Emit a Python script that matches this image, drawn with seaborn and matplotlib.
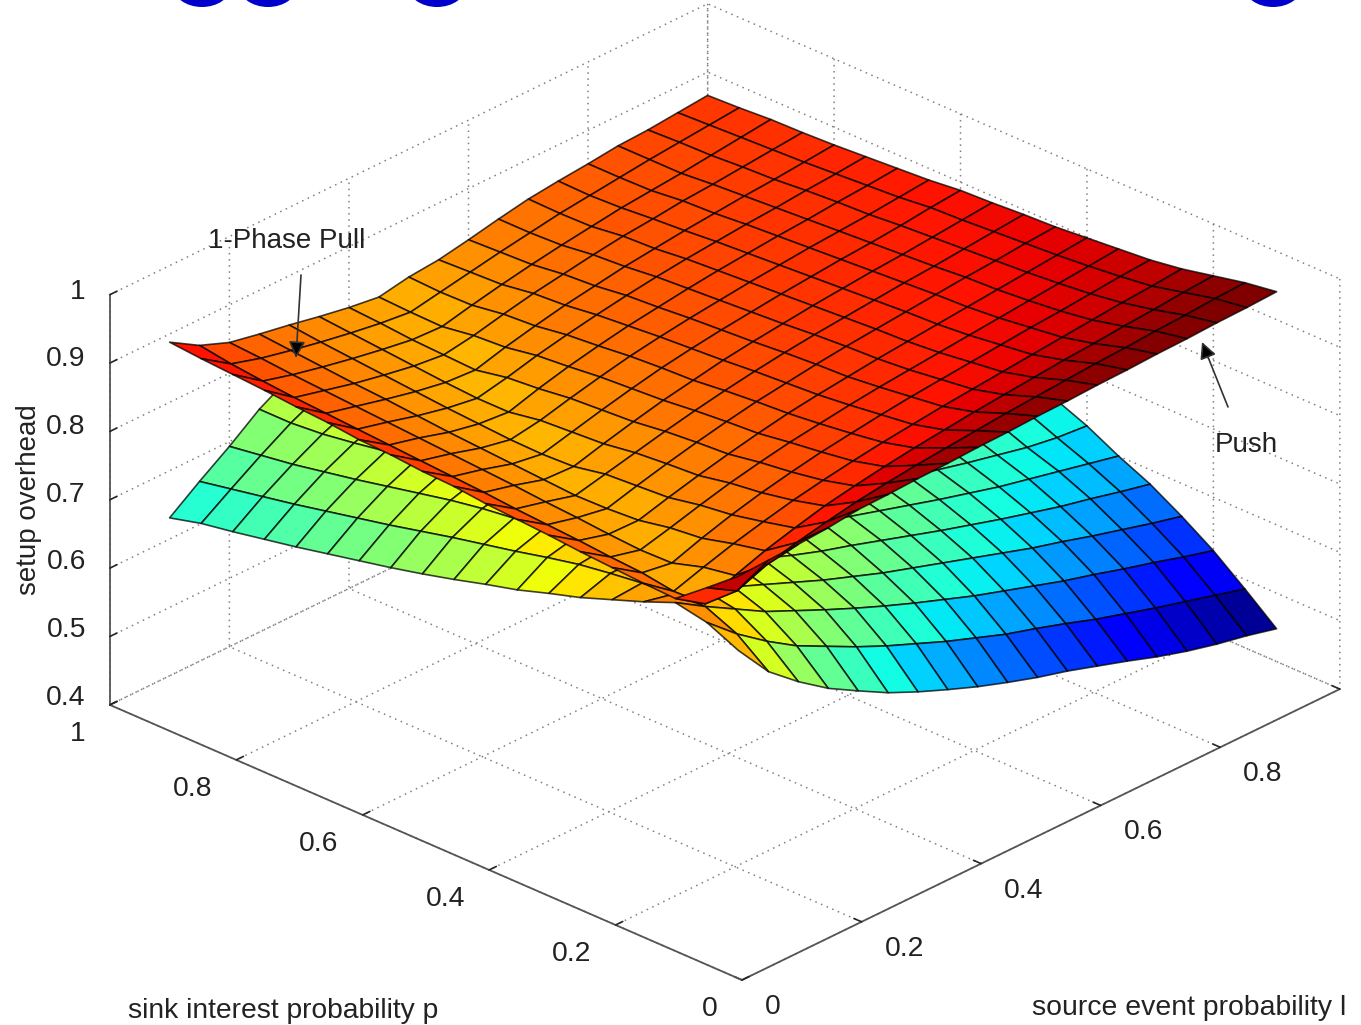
import numpy as np
import seaborn as sns
import matplotlib
matplotlib.use('Agg')
import matplotlib.pyplot as plt
from matplotlib.colors import Normalize
from matplotlib.patches import Ellipse
from matplotlib.ticker import NullFormatter
from matplotlib.transforms import IdentityTransform
from mpl_toolkits.mplot3d import proj3d

# source event probability l (columns), sink interest probability p (rows)
l_vals = [.10, .15, .20, .25, .30, .35, .40, .45, .50, .55, .60, .65, .70, .75, .80, .85, .90, .95, 1.0]
p_vals = [.10, .15, .20, .25, .30, .35, .40, .45, .50, .55, .60, .65, .70, .75, .80, .85, .90, .95, 1.0]

push_overhead = [
    [.908, .910, .912, .915, .920, .921, .923, .924, .926, .927, .929, .930, .932, .933, .935, .936, .938, .939, .941],
    [.871, .845, .862, .873, .882, .890, .896, .901, .905, .909, .913, .916, .919, .922, .924, .927, .929, .932, .934],
    [.835, .806, .826, .841, .853, .864, .872, .879, .885, .890, .895, .899, .903, .907, .910, .914, .917, .921, .924],
    [.837, .804, .818, .831, .842, .852, .860, .867, .873, .878, .883, .887, .891, .895, .899, .903, .907, .910, .914],
    [.840, .811, .804, .819, .832, .843, .852, .860, .866, .872, .877, .881, .885, .889, .893, .896, .900, .904, .907],
    [.843, .814, .803, .814, .826, .837, .846, .854, .860, .866, .871, .875, .879, .883, .887, .891, .895, .899, .903],
    [.847, .818, .806, .805, .817, .828, .838, .847, .855, .861, .866, .871, .875, .879, .883, .887, .891, .895, .899],
    [.850, .821, .810, .802, .814, .825, .835, .844, .852, .858, .864, .869, .873, .877, .881, .885, .888, .892, .895],
    [.853, .824, .813, .801, .811, .821, .831, .840, .848, .855, .861, .866, .870, .874, .878, .881, .885, .889, .893],
    [.858, .828, .817, .804, .802, .814, .825, .835, .843, .851, .857, .862, .867, .871, .875, .878, .882, .886, .890],
    [.860, .831, .820, .807, .800, .811, .822, .832, .841, .848, .854, .859, .864, .868, .872, .875, .879, .884, .888],
    [.864, .834, .823, .810, .801, .808, .819, .829, .838, .845, .851, .856, .861, .865, .869, .872, .875, .879, .883],
    [.866, .837, .826, .813, .804, .800, .813, .824, .833, .841, .847, .853, .858, .862, .866, .869, .873, .876, .880],
    [.871, .840, .829, .817, .807, .800, .809, .820, .829, .837, .844, .850, .855, .859, .863, .866, .870, .873, .877],
    [.874, .843, .832, .821, .811, .803, .800, .812, .822, .831, .838, .845, .850, .855, .859, .863, .866, .870, .874],
    [.878, .846, .835, .824, .815, .807, .802, .809, .819, .828, .835, .842, .848, .852, .857, .860, .864, .868, .872],
    [.881, .850, .838, .828, .819, .811, .804, .802, .812, .821, .829, .836, .842, .848, .852, .856, .861, .866, .871],
    [.884, .855, .842, .832, .823, .815, .808, .803, .811, .819, .827, .834, .841, .846, .851, .856, .860, .864, .868],
    [.888, .862, .845, .836, .828, .819, .811, .805, .813, .817, .825, .834, .842, .847, .851, .856, .858, .862, .866],
]

pull_overhead = [
    [.799, .747, .711, .680, .655, .631, .611, .593, .576, .561, .547, .535, .521, .507, .492, .479, .468, .459, .448],
    [.820, .782, .750, .722, .700, .678, .658, .640, .622, .606, .590, .577, .563, .548, .535, .522, .510, .498, .486],
    [.829, .802, .777, .752, .732, .712, .693, .675, .658, .642, .626, .612, .598, .584, .572, .559, .547, .534, .522],
    [.810, .800, .785, .768, .750, .732, .714, .698, .682, .668, .654, .640, .626, .612, .600, .587, .575, .563, .552],
    [.793, .796, .790, .778, .762, .747, .730, .715, .702, .688, .674, .660, .647, .634, .622, .610, .600, .589, .579],
    [.776, .790, .790, .782, .770, .757, .743, .730, .717, .703, .690, .677, .664, .652, .640, .630, .620, .610, .600],
    [.762, .783, .788, .784, .775, .764, .752, .740, .727, .714, .702, .690, .678, .666, .655, .645, .635, .628, .624],
    [.747, .773, .783, .783, .777, .769, .759, .748, .736, .724, .712, .700, .689, .678, .668, .660, .653, .647, .643],
    [.735, .762, .776, .781, .779, .773, .764, .754, .744, .733, .722, .711, .700, .690, .681, .674, .668, .663, .659],
    [.722, .752, .769, .777, .778, .775, .768, .760, .750, .740, .730, .720, .710, .701, .693, .686, .680, .675, .671],
    [.710, .742, .763, .772, .776, .775, .771, .764, .756, .747, .738, .728, .719, .711, .704, .697, .692, .687, .683],
    [.699, .731, .755, .768, .774, .776, .773, .768, .761, .753, .744, .735, .727, .719, .712, .706, .700, .696, .692],
    [.689, .720, .745, .762, .771, .775, .775, .771, .765, .758, .750, .742, .734, .726, .719, .713, .708, .703, .699],
    [.679, .710, .735, .754, .767, .773, .775, .773, .768, .762, .755, .748, .740, .733, .726, .720, .715, .710, .705],
    [.669, .700, .725, .745, .760, .770, .774, .774, .771, .766, .760, .753, .746, .739, .732, .726, .720, .715, .710],
    [.660, .690, .716, .737, .753, .765, .772, .775, .773, .769, .764, .757, .750, .744, .737, .731, .725, .720, .715],
    [.651, .681, .707, .730, .748, .761, .770, .775, .775, .772, .767, .761, .755, .748, .742, .736, .730, .725, .720],
    [.643, .672, .700, .726, .747, .761, .771, .776, .777, .775, .770, .765, .759, .752, .746, .740, .734, .729, .724],
    [.631, .663, .693, .726, .751, .764, .773, .778, .779, .777, .773, .768, .762, .756, .750, .744, .738, .733, .728],
]

x_ticks = [0, .2, .4, .6, .8, 1]
y_ticks = [0, .2, .4, .6, .8, 1]
z_ticks = [.4, .5, .6, .7, .8, .9, 1]
x_tick_labels = ['0', '0.2', '0.4', '0.6', '0.8']
y_tick_labels = ['0', '0.2', '0.4', '0.6', '0.8', '1']
z_tick_labels = ['0.4', '0.5', '0.6', '0.7', '0.8', '0.9', '1']
blob_x = [202, 268, 437, 1273]

W, H = 1361, 1025

sns.set_theme(style='white')
plt.rcParams['font.family'] = ['Liberation Sans']

fig = plt.figure(figsize=(W / 100, H / 100), dpi=100, facecolor='white')
ax = fig.add_subplot(projection='3d', proj_type='ortho', computed_zorder=False)
ax.view_init(elev=27.4, azim=-136.6)
ax.set_box_aspect((1, 1, 0.531))
ax.set_xlim(0, 1)
ax.set_ylim(0, 1)
ax.set_zlim(0.4, 1)
ax.set_xticks(x_ticks)
ax.set_yticks(y_ticks)
ax.set_zticks(z_ticks)
ax.grid(True)

for a in (ax.xaxis, ax.yaxis, ax.zaxis):
    a.set_major_formatter(NullFormatter())
    a.set_pane_color((1, 1, 1, 1))
    a.pane.set_edgecolor('white')
    a.line.set_color('#555555')
    a.line.set_linewidth(1.3)
    a._axinfo['grid'].update(color='#808080', linewidth=1.1, linestyle=(0, (1, 3)))
    a._axinfo['tick'].update(inward_factor=0, outward_factor=0.15, color='#555555')
    a._axinfo['tick']['linewidth'] = {True: 1.2, False: 1.0}
ax.zaxis.set_ticks_position('upper')


def proj(x, y, z):
    px, py, _ = proj3d.proj_transform(x, y, z, ax.get_proj())
    return px, py


# put the box where the reference has it, corners in image pixels
ax.set_position([0, 0, 1000 / W, 1000 / H])
for _ in range(3):
    ax.apply_aspect()
    front = ax.transData.transform(proj(0, 0, .4))
    left = ax.transData.transform(proj(0, 1, .4))
    right = ax.transData.transform(proj(1, 0, .4))
    k = 1230 / (right[0] - left[0])
    pos = ax.get_position(original=True)
    x0 = pos.x0 * W
    y0 = pos.y0 * H
    side = pos.width * W
    x0 = 742 - (front[0] - x0) * k
    y0 = (H - 980) - (front[1] - y0) * k
    side = side * k
    ax.set_position([x0 / W, y0 / H, side / W, side / H])
ax.apply_aspect()

# flat shading: each cell takes the colour of its first corner, as MATLAB does
L, P = np.meshgrid(l_vals, p_vals)
low_norm = Normalize(0.4476, 0.941)
top_norm = Normalize(0.4476, 0.938)
jet = matplotlib.colormaps['jet']
surf_opts = dict(rstride=1, cstride=1, shade=False, edgecolor=(0, 0, 0, 0.75), linewidth=1.2, antialiased=True)
ax.plot_surface(L, P, np.array(pull_overhead), facecolors=jet(low_norm(np.array(pull_overhead))), zorder=2, **surf_opts)
ax.plot_surface(L, P, np.array(push_overhead), facecolors=jet(top_norm(np.array(push_overhead))), zorder=3, **surf_opts)

tick_kw = dict(xycoords='data', textcoords='offset pixels', va='center', fontsize=20.3,
               color='#222222', annotation_clip=False)
for t, s in zip(x_ticks, x_tick_labels):
    ax.annotate(s, proj(t, 0, .4), xytext=(23, -27), ha='left', **tick_kw)
for t, s in zip(y_ticks, y_tick_labels):
    ax.annotate(s, proj(0, t, .4), xytext=(-24, -29), ha='right', **tick_kw)
for t, s in zip(z_ticks, z_tick_labels):
    ax.annotate(s, proj(0, 1, t), xytext=(-24, 3 + 4 * (1 - t) / .6), ha='right', **tick_kw)

fig.text(128 / W, 1 - 1011 / H, 'sink interest probability p', ha='left', va='center', fontsize=20.3, color='#222222')
fig.text(1032 / W, 1 - 1008 / H, 'source event probability l', ha='left', va='center', fontsize=20.4, color='#222222')
fig.text(29 / W, 1 - 500 / H, 'setup overhead', rotation=90, ha='center', va='center', fontsize=20, color='#222222')
fig.text(287 / W, 1 - 241 / H, '1-Phase Pull', ha='center', va='center', fontsize=20, color='#222222')
fig.text(1246 / W, 1 - 445 / H, 'Push', ha='center', va='center', fontsize=20, color='#222222')

arrow_kw = dict(xycoords='figure pixels', textcoords='figure pixels', annotation_clip=False, zorder=10,
                arrowprops=dict(arrowstyle='-|>,head_length=0.5,head_width=0.25', facecolor='black',
                                edgecolor='#333333', lw=1.2, shrinkA=0, shrinkB=0, mutation_scale=20))
ax.annotate('', xy=(296, H - 358), xytext=(301, H - 275), **arrow_kw)
ax.annotate('', xy=(1202, H - 342), xytext=(1228, H - 407), **arrow_kw)

# bottoms of the cropped letters along the top edge
for bx in blob_x:
    fig.add_artist(Ellipse((bx, H + 14), 58, 42, transform=IdentityTransform(),
                           facecolor='#0000cc', edgecolor='none'))

fig.savefig('out.png', dpi=100)
